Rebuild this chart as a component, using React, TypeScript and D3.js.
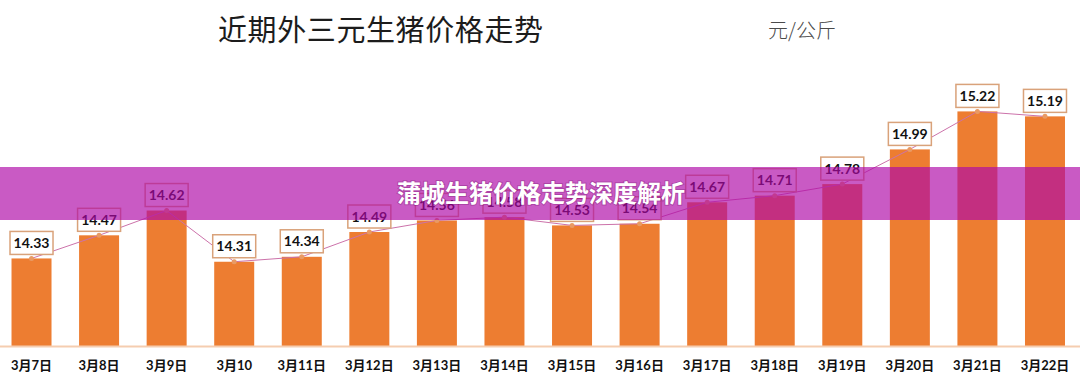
import React from 'react';
import * as d3 from 'd3';

// chart data
const dates = [
  '3月7日', '3月8日', '3月9日', '3月10', '3月11日', '3月12日', '3月13日', '3月14日',
  '3月15日', '3月16日', '3月17日', '3月18日', '3月19日', '3月20日', '3月21日', '3月22日'
];
const prices = [
  14.33, 14.47, 14.62, 14.31, 14.34, 14.49, 14.56, 14.58,
  14.53, 14.54, 14.67, 14.71, 14.78, 14.99, 15.22, 15.19
];

const title = '近期外三元生猪价格走势';
const unit = '元/公斤';
const banner = '蒲城生猪价格走势深度解析';

const W = 1080;
const H = 388;
const baseY = 346;

const App: React.FC = () => {
  const x = d3.scaleBand<string>()
    .domain(dates)
    .range([-2, 1078.5])
    .paddingInner(0.408)
    .paddingOuter(0.2);

  const y = d3.scaleLinear()
    .domain([13.8, 15.4])
    .range([baseY, baseY - 1.6 * 165.2]);

  const cx = (d: string) => (x(d) || 0) + x.bandwidth() / 2;

  const line = d3.line<number>()
    .x((_, i) => cx(dates[i]))
    .y(v => y(v));

  const labelFont = "Lato, 'Noto Sans CJK SC', sans-serif";

  return (
    <svg width={W} height={H} style={{ position: 'absolute', left: 0, top: 0, background: '#fff' }}>
      <rect x={0} y={0} width={W} height={H} fill="#fff" />

      {/* title + unit */}
      <text x={218} y={41} fontSize={29} letterSpacing={0.6}
        fontFamily="'Noto Sans CJK SC', sans-serif" fill="#1c1c1c">{title}</text>
      <text x={768} y={38} fontSize={20} fontWeight={300}
        fontFamily="'Noto Sans CJK SC', sans-serif" fill="#4a4a4a">{unit}</text>

      {/* bars */}
      {prices.map((v, i) => (
        <rect key={'b' + i} x={x(dates[i])} y={y(v)} width={x.bandwidth()}
          height={baseY - y(v)} fill="#ed7d31" />
      ))}

      {/* axis line */}
      <line x1={0} x2={W} y1={baseY + 0.5} y2={baseY + 0.5} stroke="#f5cdb0" strokeWidth={2} />

      {/* trend line */}
      <path d={line(prices) || ''} fill="none" stroke="#cc72aa" strokeWidth={1} />
      {prices.map((v, i) => (
        <circle key={'m' + i} cx={cx(dates[i])} cy={y(v)} r={2.5} fill="#e99a64" />
      ))}

      {/* value labels */}
      {prices.map((v, i) => {
        const bx = cx(dates[i]);
        const by = y(v) - 4;
        return (
          <g key={'l' + i}>
            <rect x={bx - 21.5} y={by - 23} width={43} height={23}
              fill="#fff" stroke="#d9a27a" strokeWidth={1.5} />
            <text x={bx} y={by - 6.5} textAnchor="middle" fontSize={14} fontWeight={700}
              fontFamily={labelFont} fill="#111">{v.toFixed(2)}</text>
          </g>
        );
      })}

      {/* x labels */}
      {dates.map(d => (
        <text key={d} x={cx(d)} y={370} textAnchor="middle" fontSize={13} fontWeight={700}
          fontFamily={labelFont} fill="#111">{d}</text>
      ))}

      {/* overlay banner */}
      <rect x={0} y={167} width={W} height={53} fill="rgb(175,9,167)" fillOpacity={0.67} />
      <text x={541} y={202} textAnchor="middle" fontSize={24} fontWeight={700}
        fontFamily="'Noto Sans CJK SC', sans-serif" fill="#fff"
        style={{ paintOrder: 'stroke' }} stroke="rgba(90,0,80,0.25)" strokeWidth={2}>{banner}</text>
    </svg>
  );
};

export default App;
